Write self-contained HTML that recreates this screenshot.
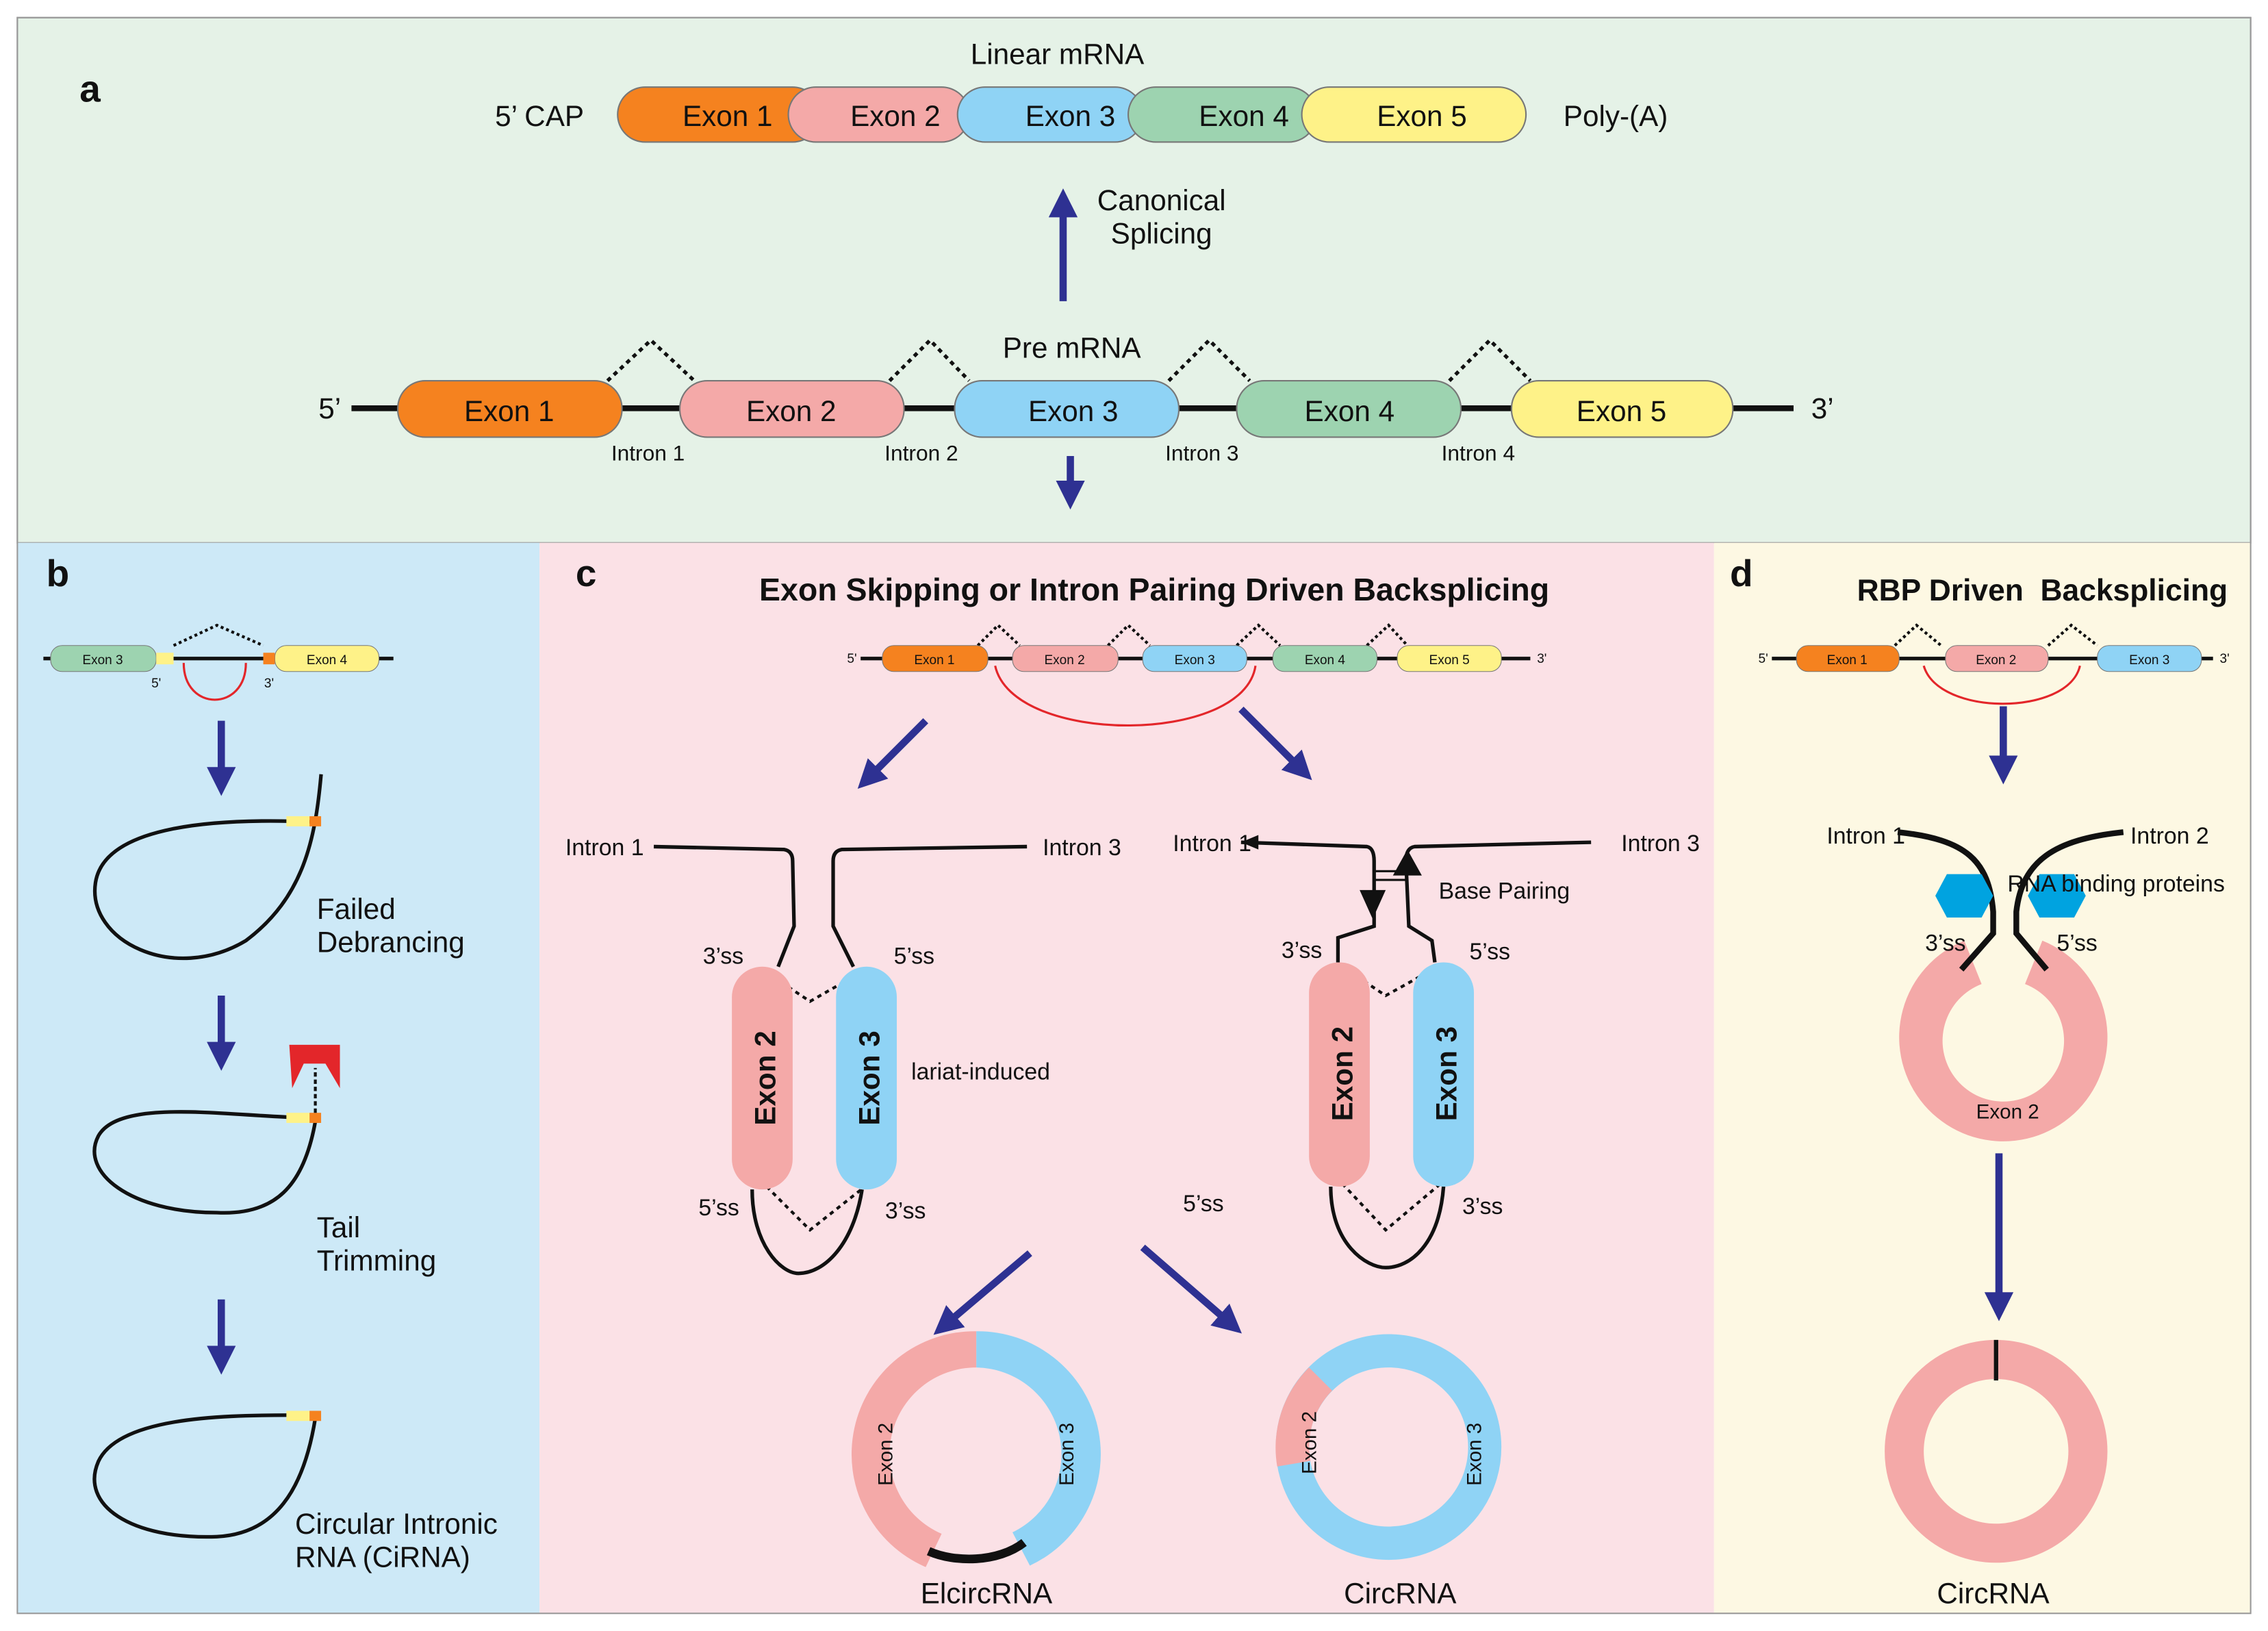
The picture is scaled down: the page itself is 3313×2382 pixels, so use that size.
<!DOCTYPE html>
<html><head><meta charset="utf-8"><style>
html,body{margin:0;padding:0;background:#fff}
svg{display:block}
text{font-family:"Liberation Sans",Arial,sans-serif;fill:#111}
</style></head><body>
<svg width="3313" height="2382" viewBox="0 0 1568 1127" xmlns="http://www.w3.org/2000/svg">
<defs>
<marker id="ah" markerWidth="4" markerHeight="4" refX="2" refY="2" orient="auto" markerUnits="strokeWidth"><path d="M0,0 L4,2 L0,4 z" fill="#2e3192"/></marker>
</defs>
<rect x="0" y="0" width="1568" height="1127" fill="#fff"/>
<rect x="12" y="12" width="1544" height="363" fill="#e5f2e7" stroke="#9a9a9a" stroke-width="1"/>
<rect x="12" y="375" width="361" height="740" fill="#cde9f7"/>
<rect x="373" y="375" width="812" height="740" fill="#fbe1e6"/>
<rect x="1185" y="375" width="371" height="740" fill="#fdf8e3"/>
<rect x="12" y="12" width="1544" height="1103" fill="none" stroke="#9a9a9a" stroke-width="1"/>

<!-- Panel a -->
<text x="55" y="70" font-size="26" font-weight="bold">a</text>
<text x="731" y="44" font-size="20" text-anchor="middle">Linear mRNA</text>
<text x="373" y="87" font-size="20" text-anchor="middle">5’ CAP</text>
<text x="1117" y="87" font-size="20" text-anchor="middle">Poly-(A)</text>
<rect x="427" y="60" width="140" height="38" rx="19" fill="#f5821f" stroke="#777"/>
<rect x="545" y="60" width="125" height="38" rx="19" fill="#f4a9a8" stroke="#777"/>
<rect x="662" y="60" width="128" height="38" rx="19" fill="#8fd3f5" stroke="#777"/>
<rect x="780" y="60" width="130" height="38" rx="19" fill="#9dd3b0" stroke="#777"/>
<rect x="900" y="60" width="155" height="38" rx="19" fill="#fef288" stroke="#777"/>
<text x="503" y="87" font-size="20" text-anchor="middle">Exon 1</text>
<text x="619" y="87" font-size="20" text-anchor="middle">Exon 2</text>
<text x="740" y="87" font-size="20" text-anchor="middle">Exon 3</text>
<text x="860" y="87" font-size="20" text-anchor="middle">Exon 4</text>
<text x="983" y="87" font-size="20" text-anchor="middle">Exon 5</text>
<line x1="735" y1="208" x2="735" y2="140" stroke="#2e3192" stroke-width="5" marker-end="url(#ah)"/>
<text x="803" y="145" font-size="20" text-anchor="middle">Canonical</text>
<text x="803" y="168" font-size="20" text-anchor="middle">Splicing</text>
<text x="741" y="247" font-size="20" text-anchor="middle">Pre mRNA</text>
<line x1="243" y1="282" x2="1240" y2="282" stroke="#111" stroke-width="4"/>
<g fill="none" stroke="#111" stroke-width="2.5" stroke-dasharray="3,3">
<path d="M420,263 L450,235 L480,263"/><path d="M615,263 L643,235 L670,263"/><path d="M808,263 L836,235 L864,263"/><path d="M1002,263 L1030,235 L1058,263"/>
</g>
<rect x="275" y="263" width="155" height="39" rx="19" fill="#f5821f" stroke="#777"/>
<rect x="470" y="263" width="155" height="39" rx="19" fill="#f4a9a8" stroke="#777"/>
<rect x="660" y="263" width="155" height="39" rx="19" fill="#8fd3f5" stroke="#777"/>
<rect x="855" y="263" width="155" height="39" rx="19" fill="#9dd3b0" stroke="#777"/>
<rect x="1045" y="263" width="153" height="39" rx="19" fill="#fef288" stroke="#777"/>
<text x="352" y="291" font-size="20" text-anchor="middle">Exon 1</text>
<text x="547" y="291" font-size="20" text-anchor="middle">Exon 2</text>
<text x="742" y="291" font-size="20" text-anchor="middle">Exon 3</text>
<text x="933" y="291" font-size="20" text-anchor="middle">Exon 4</text>
<text x="1121" y="291" font-size="20" text-anchor="middle">Exon 5</text>
<text x="228" y="289" font-size="20" text-anchor="middle">5’</text>
<text x="1260" y="289" font-size="20" text-anchor="middle">3’</text>
<text x="448" y="318" font-size="15" text-anchor="middle">Intron 1</text>
<text x="637" y="318" font-size="15" text-anchor="middle">Intron 2</text>
<text x="831" y="318" font-size="15" text-anchor="middle">Intron 3</text>
<text x="1022" y="318" font-size="15" text-anchor="middle">Intron 4</text>
<line x1="740" y1="315" x2="740" y2="342" stroke="#2e3192" stroke-width="5" marker-end="url(#ah)"/>

<!-- Panel b -->
<text x="32" y="405" font-size="26" font-weight="bold">b</text>
<line x1="30" y1="455" x2="272" y2="455" stroke="#111" stroke-width="2.5"/>
<path d="M120,446 L150,432 L182,446" fill="none" stroke="#111" stroke-width="2" stroke-dasharray="2,2"/>
<path d="M127,458 C127,492 170,492 170,458" fill="none" stroke="#e3262a" stroke-width="1.5"/>
<rect x="35" y="446" width="73" height="18" rx="8" fill="#9dd3b0" stroke="#777" stroke-width=".5"/>
<rect x="190" y="446" width="72" height="18" rx="8" fill="#fef288" stroke="#777" stroke-width=".5"/>
<rect x="108" y="451" width="12" height="8" fill="#fef288"/>
<rect x="182" y="451" width="8" height="8" fill="#f5821f"/>
<text x="71" y="459" font-size="9" text-anchor="middle">Exon 3</text>
<text x="226" y="459" font-size="9" text-anchor="middle">Exon 4</text>
<text x="108" y="475" font-size="9" text-anchor="middle">5'</text>
<text x="186" y="475" font-size="9" text-anchor="middle">3'</text>
<g stroke="#2e3192" stroke-width="5" marker-end="url(#ah)">
<line x1="153" y1="498" x2="153" y2="540"/><line x1="153" y1="688" x2="153" y2="730"/><line x1="153" y1="898" x2="153" y2="940"/>
</g>
<g fill="none" stroke="#111" stroke-width="2.5">
<path d="M222,535 C218,580 210,620 170,650 C120,680 60,650 66,610 C72,570 150,565 218,568"/>
<path d="M218,775 C210,820 190,840 150,838 C90,838 55,810 68,785 C82,760 150,770 200,772"/>
<path d="M218,980 C210,1030 190,1060 150,1062 C90,1064 55,1040 68,1010 C82,980 150,978 200,978"/>
</g>
<rect x="198" y="564" width="16" height="7" fill="#fef288"/><rect x="214" y="564" width="8" height="7" fill="#f5821f"/>
<rect x="198" y="769" width="16" height="7" fill="#fef288"/><rect x="214" y="769" width="8" height="7" fill="#f5821f"/>
<line x1="218" y1="769" x2="218" y2="738" stroke="#111" stroke-width="2" stroke-dasharray="3,2"/>
<path d="M200,722 L235,722 L235,752 L225,735 L210,735 L202,752 Z" fill="#e3262a"/>
<rect x="198" y="975" width="16" height="7" fill="#fef288"/><rect x="214" y="975" width="8" height="7" fill="#f5821f"/>
<text x="219" y="635" font-size="20">Failed</text><text x="219" y="658" font-size="20">Debrancing</text>
<text x="219" y="855" font-size="20">Tail</text><text x="219" y="878" font-size="20">Trimming</text>
<text x="204" y="1060" font-size="20">Circular Intronic</text><text x="204" y="1083" font-size="20">RNA (CiRNA)</text>

<!-- Panel c -->
<text x="398" y="405" font-size="26" font-weight="bold">c</text>
<text x="798" y="415" font-size="22" font-weight="bold" text-anchor="middle">Exon Skipping or Intron Pairing Driven Backsplicing</text>
<line x1="595" y1="455" x2="1058" y2="455" stroke="#111" stroke-width="2.5"/>
<g fill="none" stroke="#111" stroke-width="2" stroke-dasharray="2,2">
<path d="M676,446 L690,432 L705,446"/><path d="M766,446 L780,432 L795,446"/><path d="M855,446 L870,432 L885,446"/><path d="M945,446 L960,432 L973,446"/>
</g>
<path d="M688,460 C700,515 860,515 868,460" fill="none" stroke="#e3262a" stroke-width="1.5"/>
<rect x="610" y="446" width="73" height="18" rx="8" fill="#f5821f" stroke="#777" stroke-width=".5"/>
<rect x="700" y="446" width="73" height="18" rx="8" fill="#f4a9a8" stroke="#777" stroke-width=".5"/>
<rect x="790" y="446" width="72" height="18" rx="8" fill="#8fd3f5" stroke="#777" stroke-width=".5"/>
<rect x="880" y="446" width="72" height="18" rx="8" fill="#9dd3b0" stroke="#777" stroke-width=".5"/>
<rect x="966" y="446" width="72" height="18" rx="8" fill="#fef288" stroke="#777" stroke-width=".5"/>
<g font-size="9" text-anchor="middle">
<text x="646" y="459">Exon 1</text><text x="736" y="459">Exon 2</text><text x="826" y="459">Exon 3</text><text x="916" y="459">Exon 4</text><text x="1002" y="459">Exon 5</text>
<text x="589" y="458">5'</text><text x="1066" y="458">3'</text>
</g>
<g stroke="#2e3192" stroke-width="5" marker-end="url(#ah)">
<line x1="640" y1="498" x2="600" y2="538"/><line x1="858" y1="490" x2="900" y2="532"/>
<line x1="712" y1="866" x2="653" y2="916"/><line x1="790" y1="862" x2="851" y2="915"/>
</g>
<!-- left diagram -->
<g fill="none" stroke="#111" stroke-width="2.5">
<path d="M452,585 L542,587 Q548,588 548,595 L549,640 L538,668"/>
<path d="M710,585 L582,587 Q576,588 576,595 L576,640 L590,668"/>
<path d="M520,822 C520,860 540,880 552,880 C570,880 590,860 596,822"/>
</g>
<g fill="none" stroke="#111" stroke-width="2" stroke-dasharray="3,3">
<path d="M530,672 L560,692 L595,672"/><path d="M530,820 L560,850 L598,820"/>
</g>
<rect x="506" y="668" width="42" height="154" rx="21" fill="#f4a9a8"/>
<rect x="578" y="668" width="42" height="154" rx="21" fill="#8fd3f5"/>
<text transform="translate(536,745) rotate(-90)" font-size="20" font-weight="bold" text-anchor="middle">Exon 2</text>
<text transform="translate(608,745) rotate(-90)" font-size="20" font-weight="bold" text-anchor="middle">Exon 3</text>
<g font-size="16" text-anchor="middle">
<text x="418" y="591">Intron 1</text><text x="748" y="591">Intron 3</text>
<text x="500" y="666">3’ss</text><text x="632" y="666">5’ss</text>
<text x="678" y="746">lariat-induced</text>
<text x="497" y="840">5’ss</text><text x="626" y="842">3’ss</text>
<text x="832" y="837">5’ss</text>
<text x="838" y="588">Intron 1</text><text x="1148" y="588">Intron 3</text>
<text x="1040" y="621">Base Pairing</text>
<text x="900" y="662">3’ss</text><text x="1030" y="663">5’ss</text>
<text x="1025" y="839">3’ss</text>
</g>
<!-- right diagram -->
<g fill="none" stroke="#111" stroke-width="2.5">
<path d="M858,582 L945,585 Q950,586 950,595 L950,640 L925,648 L925,665"/>
<path d="M1100,582 L978,585 Q972,586 972,595 L974,640 L990,650 L992,665"/>
<path d="M920,820 C920,860 945,876 958,876 C975,876 995,860 998,820"/>
<line x1="950" y1="602" x2="972" y2="602" stroke-width="1.5"/><line x1="950" y1="608" x2="972" y2="608" stroke-width="1.5"/>
</g>
<path d="M940,615 L958,615 L949,635 Z" fill="#111"/>
<path d="M963,605 L983,605 L973,587 Z" fill="#111"/>
<path d="M858,582 L870,577 L870,587 Z" fill="#111"/>
<g fill="none" stroke="#111" stroke-width="2" stroke-dasharray="3,3">
<path d="M928,668 L958,688 L994,668"/><path d="M928,818 L958,850 L996,818"/>
</g>
<rect x="905" y="665" width="42" height="155" rx="21" fill="#f4a9a8"/>
<rect x="977" y="665" width="42" height="155" rx="21" fill="#8fd3f5"/>
<text transform="translate(935,742) rotate(-90)" font-size="20" font-weight="bold" text-anchor="middle">Exon 2</text>
<text transform="translate(1007,742) rotate(-90)" font-size="20" font-weight="bold" text-anchor="middle">Exon 3</text>
<!-- ElcircRNA ring -->
<path d="M675,920 A85,85 0 0,0 640,1083 L651,1060 A60,60 0 0,1 675,945 Z" fill="#f4a9a8"/>
<path d="M675,920 A85,85 0 0,1 712,1082 L700,1059 A60,60 0 0,0 675,945 Z" fill="#8fd3f5"/>
<path d="M642,1072 C660,1080 690,1080 708,1066" fill="none" stroke="#111" stroke-width="6"/>
<text transform="translate(617,1005) rotate(-90)" font-size="14" text-anchor="middle">Exon 2</text>
<text transform="translate(742,1005) rotate(-90)" font-size="14" text-anchor="middle">Exon 3</text>
<text x="682" y="1108" font-size="20" text-anchor="middle">ElcircRNA</text>
<!-- CircRNA ring -->
<circle cx="960" cy="1000" r="66.5" fill="none" stroke="#8fd3f5" stroke-width="23"/>
<path d="M905,945 A78,78 0 0,0 883,1013.5 L906,1009.6 A55,55 0 0,1 921,961 Z" fill="#f4a9a8"/>
<text transform="translate(910,997) rotate(-90)" font-size="14" text-anchor="middle">Exon 2</text>
<text transform="translate(1024,1005) rotate(-90)" font-size="14" text-anchor="middle">Exon 3</text>
<text x="968" y="1108" font-size="20" text-anchor="middle">CircRNA</text>

<!-- Panel d -->
<text x="1196" y="405" font-size="26" font-weight="bold">d</text>
<text x="1412" y="415" font-size="21" font-weight="bold" text-anchor="middle" xml:space="preserve">RBP Driven  Backsplicing</text>
<line x1="1225" y1="455" x2="1530" y2="455" stroke="#111" stroke-width="2.5"/>
<g fill="none" stroke="#111" stroke-width="2" stroke-dasharray="2,2">
<path d="M1310,446 L1325,432 L1342,446"/><path d="M1416,446 L1432,432 L1450,446"/>
</g>
<path d="M1330,460 C1340,495 1430,495 1438,460" fill="none" stroke="#e3262a" stroke-width="1.5"/>
<rect x="1242" y="446" width="71" height="18" rx="8" fill="#f5821f" stroke="#777" stroke-width=".5"/>
<rect x="1345" y="446" width="71" height="18" rx="8" fill="#f4a9a8" stroke="#777" stroke-width=".5"/>
<rect x="1450" y="446" width="72" height="18" rx="8" fill="#8fd3f5" stroke="#777" stroke-width=".5"/>
<g font-size="9" text-anchor="middle">
<text x="1277" y="459">Exon 1</text><text x="1380" y="459">Exon 2</text><text x="1486" y="459">Exon 3</text>
<text x="1219" y="458">5'</text><text x="1538" y="458">3'</text>
</g>
<g stroke="#2e3192" stroke-width="5" marker-end="url(#ah)">
<line x1="1385" y1="488" x2="1385" y2="532"/><line x1="1382" y1="797" x2="1382" y2="903"/>
</g>
<!-- open ring -->
<path d="M1358,650 A72,72 0 1,0 1412,650 L1400,680 A42,42 0 1,1 1370,680 Z" fill="#f4a9a8"/>
<g fill="none" stroke="#111" stroke-width="4">
<path d="M1312,575 C1360,580 1375,595 1378,630 L1378,645 L1356,670"/>
<path d="M1468,575 C1420,580 1398,595 1394,630 L1394,645 L1415,670"/>
</g>
<polygon points="1338,619 1346,604 1370,604 1378,619 1370,634 1346,634" fill="#00a3e0"/>
<polygon points="1402,619 1410,604 1434,604 1442,619 1434,634 1410,634" fill="#00a3e0"/>
<g font-size="16" text-anchor="middle">
<text x="1290" y="583">Intron 1</text><text x="1500" y="583">Intron 2</text>
<text x="1463" y="616">RNA binding proteins</text>
<text x="1345" y="657">3’ss</text><text x="1436" y="657">5’ss</text>
</g>
<text x="1388" y="773" font-size="14" text-anchor="middle">Exon 2</text>
<circle cx="1380" cy="1003" r="63.5" fill="none" stroke="#f4a9a8" stroke-width="27"/>
<line x1="1380" y1="926" x2="1380" y2="954" stroke="#111" stroke-width="3"/>
<text x="1378" y="1108" font-size="20" text-anchor="middle">CircRNA</text>
</svg>
</body></html>
